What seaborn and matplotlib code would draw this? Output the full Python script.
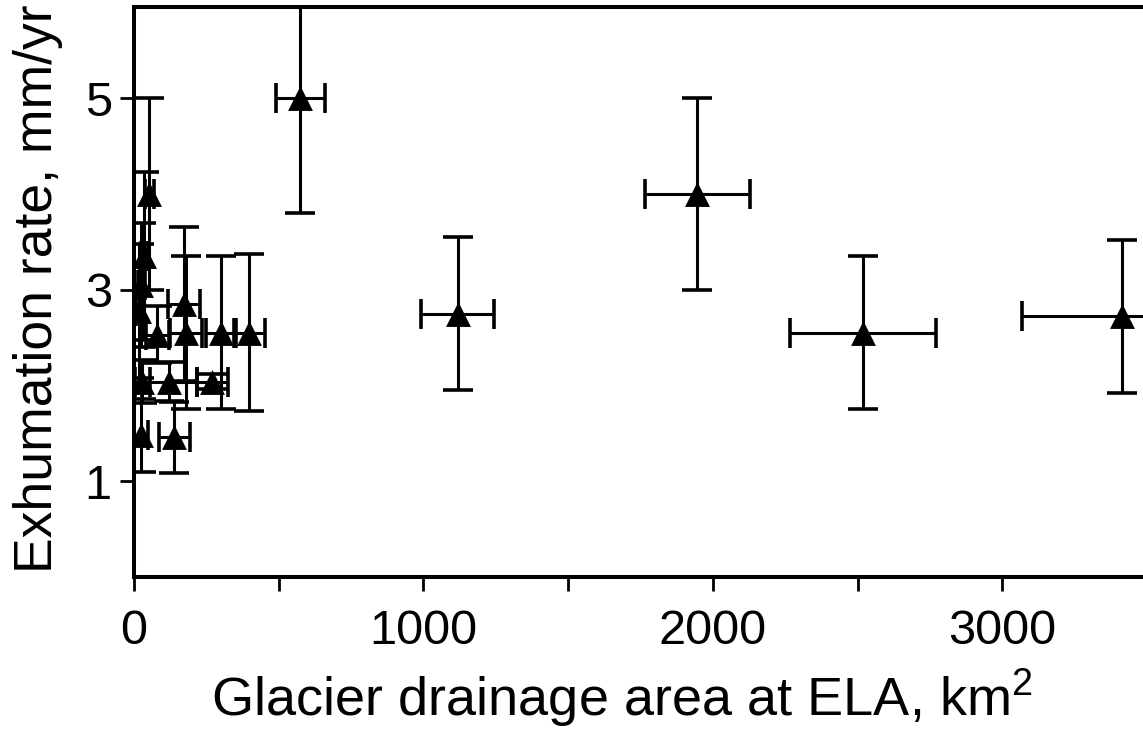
import matplotlib
matplotlib.use("Agg")
import matplotlib.pyplot as plt
import seaborn as sns
import pandas as pd
import numpy as np
from matplotlib.ticker import FixedLocator

# Data
area_km2 = [575, 1118, 1947, 2520, 3412,
            53, 36, 25, 18, 81, 174, 180, 302, 399, 271, 122, 29, 25, 140]
area_err = [85, 126, 180, 252, 345,
            15, 12, 12, 10, 40, 55, 55, 52, 54, 54, 95, 25, 25, 53]
exhum_rate = [5.0, 2.75, 4.0, 2.55, 2.72,
              4.0, 3.35, 3.05, 2.78, 2.53, 2.85, 2.55, 2.55, 2.55, 2.04, 2.04, 2.04, 1.48, 1.46]
exhum_err = [1.2, 0.8, 1.0, 0.8, 0.8,
             1.0, 0.88, 0.65, 0.7, 0.3, 0.8, 0.8, 0.8, 0.82, 0.08, 0.2, 0.22, 0.38, 0.37]

x_ticks = [0, 1000, 2000, 3000]
x_minor = [500, 1500, 2500]
y_ticks = [1, 3, 5]
x_label = "Glacier drainage area at ELA, km$^{\\mathrm{2}}$"
y_label = "Exhumation rate, mm/yr"

df = pd.DataFrame({"area": area_km2, "area_err": area_err,
                   "rate": exhum_rate, "rate_err": exhum_err})

sns.set_style("ticks")
plt.rcParams["font.family"] = ["Liberation Sans", "DejaVu Sans"]
plt.rcParams["mathtext.fontset"] = "custom"
plt.rcParams["mathtext.rm"] = "Liberation Sans"
plt.rcParams["mathtext.it"] = "Liberation Sans:italic"
plt.rcParams["text.color"] = "black"
plt.rcParams["axes.labelcolor"] = "black"
plt.rcParams["xtick.color"] = "black"
plt.rcParams["ytick.color"] = "black"
plt.rcParams["xtick.labelcolor"] = "black"
plt.rcParams["ytick.labelcolor"] = "black"

fig = plt.figure(figsize=(11.43, 7.30), dpi=100)
ax = fig.add_axes([0.1172, 0.2096, 0.9116, 0.7808])

ax.errorbar(df["area"], df["rate"], xerr=df["area_err"], yerr=df["rate_err"],
            fmt="none", ecolor="black", elinewidth=2.2, capsize=11, capthick=2.6,
            zorder=2)
sns.scatterplot(data=df, x="area", y="rate", marker="^", s=320, color="black",
                edgecolor="black", linewidth=0, ax=ax, zorder=3, legend=False)

ax.set_xlim(0, 3600)
ax.set_ylim(0, 5.95)
ax.xaxis.set_major_locator(FixedLocator(x_ticks))
ax.xaxis.set_minor_locator(FixedLocator(x_minor))
ax.yaxis.set_major_locator(FixedLocator(y_ticks))

for s in ["left", "bottom", "top", "right"]:
    ax.spines[s].set_linewidth(2.9)
    ax.spines[s].set_color("black")
ax.spines["right"].set_visible(False)

ax.tick_params(axis="both", which="both", direction="out", length=10, width=2.0,
               color="black", labelcolor="black", labelsize=35)
ax.tick_params(axis="x", which="both", pad=13)
ax.tick_params(axis="y", which="both", pad=6)
ax.tick_params(top=False, right=False)

ax.set_xlabel(x_label, fontsize=39, color="black")
ax.set_ylabel(y_label, fontsize=38.5, color="black")
ax.xaxis.set_label_coords(0.468, -0.158)
ax.yaxis.set_label_coords(-0.068, 0.505)

fig.savefig("out.png", dpi=100)
